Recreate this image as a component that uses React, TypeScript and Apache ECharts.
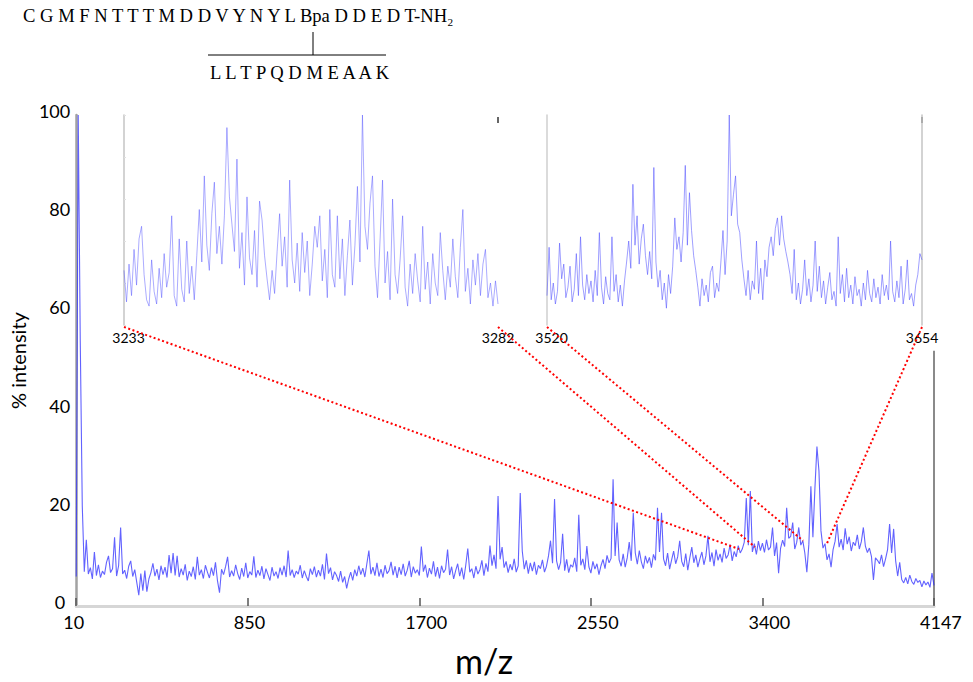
import React, { useEffect, useRef } from "react";
import * as echarts from "echarts";

// ---------- data ----------
const xTickPositions = [0, 850, 1700, 2550, 3400, 4250];
const xTickLabels = ["10", "850", "1700", "2550", "3400", "4147"];
const yTicks = [0, 20, 40, 60, 80, 100];
const mainStep = 10;

// main spectrum (% intensity), sampled every mainStep axis units
const mainIntensity = [
  6, 100, 54, 20.4, 7, 13.5, 6.5, 7.8, 5.5, 11,
  6.2, 8.4, 5.8, 7.1, 6.4, 8.9, 10.2, 6.8, 7.6, 14,
  6.1, 8.2, 16, 6.5, 7.3, 5.6, 8.1, 9.2, 6.0, 7.4,
  4.8, 2.2, 6.6, 3.1, 7.2, 2.9, 5.5, 6.8, 8.7, 6.1,
  7.5, 5.3, 8.2, 6.4, 7.9, 5.8, 10.4, 6.7, 10.8, 6.2,
  10.2, 5.9, 7.6, 6.3, 8.5, 5.2, 7.1, 6.0, 8.0, 5.4,
  10.0, 6.3, 7.4, 5.6, 8.3, 6.9, 5.7, 7.8, 6.2, 8.9,
  5.1, 2.7, 7.5, 6.4, 8.0, 10.0, 5.9, 7.2, 6.1, 8.4,
  6.6, 5.4, 7.7, 6.0, 8.8, 5.7, 7.0, 6.3, 10.1, 5.8,
  7.3, 6.2, 8.1, 5.5, 7.6, 6.4, 5.2, 7.9, 6.1, 7.0,
  5.6, 7.8, 6.3, 8.2, 5.9, 11.3, 6.2, 7.4, 5.8, 7.1,
  6.5, 8.3, 5.7, 7.2, 6.0, 5.1, 7.6, 6.4, 8.0, 5.9,
  7.3, 6.1, 8.5, 5.4, 10.7, 6.6, 7.8, 5.3, 7.0, 6.2,
  5.0, 7.1, 4.8, 6.0, 3.6, 5.5, 6.9, 5.2, 7.4, 6.1,
  8.2, 6.4, 7.7, 5.9, 8.6, 11.3, 6.5, 7.9, 6.2, 8.8,
  6.0, 7.5, 5.8, 8.3, 6.6, 7.2, 9.0, 6.3, 8.1, 5.7,
  7.9, 6.4, 8.6, 6.1, 7.3, 9.2, 5.9, 8.0, 6.7, 7.4,
  6.2, 12.1, 7.0, 8.4, 5.8, 7.7, 6.5, 9.1, 6.0, 7.9,
  5.6, 8.2, 6.8, 7.5, 11.5, 6.3, 8.0, 5.5, 7.2, 8.6,
  6.1, 7.8, 5.4, 8.3, 11.7, 6.9, 7.6, 5.7, 8.1, 6.5,
  7.4, 9.3, 6.2, 8.7, 7.0, 12.3, 8.2, 10.4, 7.6, 22.4,
  9.5, 12.0, 7.8, 9.1, 6.8, 8.5, 7.3, 9.6, 6.9, 8.2,
  23.0, 11.2, 7.5, 9.3, 6.6, 8.8, 7.1, 9.0, 6.4, 8.3,
  7.6, 9.4, 6.9, 8.1, 10.2, 13.3, 8.7, 21.8, 9.2, 7.4,
  8.9, 14.7, 7.2, 9.5, 6.8, 8.4, 7.9, 9.8, 7.0, 18.6,
  8.3, 9.6, 7.4, 12.2, 8.0, 6.7, 9.1, 7.5, 8.6, 6.4,
  8.2, 9.5, 7.6, 10.3, 8.8, 9.7, 25.8, 10.2, 17.0, 9.4,
  8.1, 10.6, 7.9, 9.8, 13.0, 9.2, 19.0, 10.8, 8.5, 11.3,
  9.0, 7.6, 10.2, 8.7, 9.9, 7.8, 10.5, 9.3, 20.0, 11.0,
  19.0, 9.6, 8.2, 10.8, 7.5, 9.4, 11.2, 8.6, 10.0, 13.3,
  9.1, 8.0, 10.7, 7.3, 9.8, 12.0, 8.8, 10.4, 7.9, 9.6,
  11.0, 8.4, 10.2, 14.3, 9.0, 10.9, 8.1, 11.5, 9.3, 10.6,
  8.9, 11.8, 9.7, 10.4, 12.5, 9.2, 11.1, 10.0, 12.3, 10.8,
  11.6, 13.0, 22.0, 12.4, 23.4, 11.0, 12.7, 10.5, 13.2, 11.3,
  12.8, 10.9, 13.5, 11.4, 12.0, 16.0, 10.2, 12.9, 6.7, 11.8,
  13.4, 12.1, 20.0, 13.8, 14.2, 17.0, 11.6, 13.0, 16.0, 12.4,
  13.3, 10.8, 6.9, 12.6, 24.4, 14.0, 24.0, 32.5, 27.5, 15.3,
  11.8, 12.7, 9.4, 10.6, 7.9, 11.5, 13.2, 16.7, 12.0, 13.6,
  11.4, 15.8, 12.6, 14.1, 11.2, 13.0, 12.3, 14.5, 11.6, 13.1,
  16.0, 12.2, 10.9, 11.8, 10.1, 5.3, 9.8, 9.3, 8.6, 10.4,
  8.0, 9.6, 11.5, 16.7, 10.8, 15.7, 9.2, 6.1, 8.9, 5.4,
  4.7, 5.8, 4.5, 6.3, 5.0, 4.4, 5.6, 4.8, 5.2, 3.9,
  5.1, 4.3, 4.9, 3.8, 6.7, 4.2,
];

// inset 1: m/z 3233 - 3282 (relative intensity, 0-100 of inset height)
const inset1Range = [3233, 3282];
const inset1Intensity = [
  26, 11, 29, 14, 36, 19, 41, 47, 24, 12,
  9, 31, 16, 10, 27, 13, 34, 18, 25, 52,
  14, 9, 41, 17, 11, 40, 15, 28, 12, 33,
  55, 30, 71, 38, 26, 53, 68, 34, 47, 29,
  52, 94, 61, 48, 35, 79, 27, 44, 19, 61,
  32, 24, 45, 18, 59, 50, 33, 22, 12, 26,
  15, 35, 53, 28, 42, 18, 69, 31, 20, 39,
  16, 44, 25, 40, 14, 29, 47, 37, 52, 21,
  36, 13, 55, 24, 18, 52, 22, 41, 14, 33,
  50, 19, 38, 66, 30, 100, 47, 36, 58, 71,
  28, 13, 40, 69, 20, 35, 12, 60, 24, 15,
  31, 52, 18, 9, 29, 15, 34, 21, 11, 47,
  17, 30, 10, 34, 20, 14, 44, 26, 12, 28,
  18, 41, 23, 13, 37, 55, 16, 27, 10, 31,
  19, 34, 14, 29, 36, 13, 20, 9, 21, 10,
];

// inset 2: m/z 3520 - 3654
const inset2Range = [3520, 3654];
const inset2Intensity = [
  14, 37, 12, 20, 10, 16, 39, 22, 29, 13,
  18, 28, 11, 17, 34, 14, 42, 19, 12, 24,
  15, 21, 11, 26, 14, 44, 18, 10, 23, 15,
  12, 42, 16, 24, 11, 19, 9, 21, 30, 40,
  27, 67, 38, 52, 29, 41, 48, 33, 24, 35,
  22, 75, 30, 18, 26, 12, 20, 8, 24, 15,
  28, 51, 36, 42, 30, 44, 76, 38, 63, 45,
  33, 26, 18, 9, 22, 14, 19, 11, 25, 28,
  13, 20, 16, 30, 45, 24, 40, 100, 52, 62,
  71, 48, 44, 31, 22, 14, 26, 12, 21, 17,
  40, 15, 27, 12, 31, 23, 37, 42, 33, 46,
  51, 38, 52, 41, 35, 30, 24, 15, 36, 12,
  20, 10, 17, 31, 14, 22, 11, 19, 40, 16,
  28, 13, 21, 10, 18, 25, 12, 16, 9, 42,
  15, 24, 11, 27, 13, 19, 10, 23, 14, 17,
  9, 20, 12, 26, 15, 11, 22, 13, 18, 10,
  24, 14, 19, 12, 40, 16, 11, 21, 13, 28,
  10, 17, 31, 12, 15, 9, 19, 24, 34, 31,
];

// where each zoom link lands on the main spectrum (main axis units, % intensity)
const linkTargets = [
  [3284, 11.6],
  [3363, 12.0],
  [3601, 13.3],
  [3716, 12.4],
];

const peptideTop = "C G M F N T T T M D D V Y N Y L Bpa D D E D T-NH\u2082";
const peptideBranch = "L L T P Q D M E A A K";

export default function App() {
  const ref = useRef<HTMLDivElement>(null);

  useEffect(() => {
    document.body.style.margin = "0";
    const chart = echarts.init(ref.current!, null, { renderer: "svg" });

    const mainData = mainIntensity.map((v, i) => [i * mainStep, v]);
    const mkInset = (vals: number[], r: number[]) =>
      vals.map((v, j) => [r[0] + (j * (r[1] - r[0])) / (vals.length - 1), v]);
    const inset1Data = mkInset(inset1Intensity, inset1Range);
    const inset2Data = mkInset(inset2Intensity, inset2Range);

    const font = "Lato";
    const endLabel = (r: number[]) => (v: number) => {
      if (Math.abs(v - r[0]) < 1e-6) return "{l|" + v + "}";
      if (Math.abs(v - r[1]) < 1e-6) return String(v);
      return "";
    };

    const insetX = (gridIndex: number, r: number[]) => ({
      type: "value",
      gridIndex,
      min: r[0],
      max: r[1],
      axisLine: { show: false },
      axisTick: { show: false },
      splitLine: { show: false },
      axisLabel: {
        show: true,
        showMinLabel: true,
        showMaxLabel: true,
        formatter: endLabel(r),
        fontFamily: font,
        fontSize: 14,
        color: "#000",
        margin: 5,
        rich: { l: { fontFamily: font, fontSize: 14, color: "#000", padding: [0, 0, 0, 9] } },
      },
    });

    const insetY = (gridIndex: number, position: string, color: string, ticks: boolean) => ({
      type: "value",
      gridIndex,
      min: 0,
      max: 100,
      interval: 20,
      position,
      axisLine: { show: true, lineStyle: { color, width: 1.5 } },
      axisTick: { show: ticks, inside: true, length: 2, lineStyle: { color: "#e0e0e0" } },
      axisLabel: { show: false },
      splitLine: { show: false },
    });

    chart.setOption({
      animation: false,
      backgroundColor: "#ffffff",
      grid: [
        { left: 67, top: 115, width: 867, height: 492 },
        { left: 124, top: 115, width: 374, height: 210 },
        { left: 547, top: 115, width: 375, height: 210 },
      ],
      xAxis: [
        {
          type: "value",
          gridIndex: 0,
          min: xTickPositions[0],
          max: xTickPositions[xTickPositions.length - 1],
          interval: 850,
          name: "m/z",
          nameLocation: "middle",
          nameGap: 37,
          nameTextStyle: { fontFamily: font, fontSize: 34, color: "#000", padding: [0, 42, 0, 0] },
          axisLine: { show: true, lineStyle: { color: "#d6d6d6", width: 3 } },
          axisTick: { show: true, inside: true, length: 8, lineStyle: { color: "#555", width: 1.5 } },
          splitLine: { show: false },
          axisLabel: {
            fontFamily: font,
            fontSize: 18,
            lineHeight: 16,
            color: "#000",
            margin: 7.5,
            align: "left",
            padding: [0, 0, 0, -14],
            formatter: (v: number) => {
              const k = xTickPositions.indexOf(v);
              if (k === 0) return "{f|" + xTickLabels[0] + "}";
              return k >= 0 ? xTickLabels[k] : "";
            },
            rich: {
              f: { fontFamily: font, fontSize: 18, lineHeight: 16, color: "#000", padding: [0, 0, 0, 1] },
            },
          },
        },
        insetX(1, inset1Range),
        insetX(2, inset2Range),
      ],
      yAxis: [
        {
          type: "value",
          gridIndex: 0,
          min: yTicks[0],
          max: yTicks[yTicks.length - 1],
          interval: 20,
          name: "% intensity",
          nameLocation: "middle",
          nameGap: 40,
          nameRotate: 90,
          nameTextStyle: { fontFamily: font, fontSize: 20, color: "#000" },
          axisLine: { show: true, lineStyle: { color: "#a2a2a2", width: 2.5 } },
          axisTick: { show: false },
          splitLine: { show: false },
          axisLabel: {
            fontFamily: font,
            fontSize: 18,
            lineHeight: 8,
            verticalAlign: "bottom",
            color: "#000",
            margin: 6,
            formatter: (v: number) => (v === 0 ? "{z|0}" : String(v)),
            rich: {
              z: { fontFamily: font, fontSize: 18, lineHeight: 8, color: "#000", padding: [0, 5, 0, 0] },
            },
          },
        },
        insetY(1, "left", "#c4c4c4", true),
        insetY(2, "left", "#cfcfcf", false),
        insetY(2, "right", "#c4c4c4", false),
      ],
      series: [
        {
          type: "line",
          xAxisIndex: 0,
          yAxisIndex: 0,
          data: mainData,
          showSymbol: false,
          lineStyle: { color: "rgba(45,45,255,0.75)", width: 1.1 },
          z: 3,
        },
        {
          type: "line",
          xAxisIndex: 1,
          yAxisIndex: 1,
          data: inset1Data,
          showSymbol: false,
          lineStyle: { color: "rgba(90,90,255,0.5)", width: 1 },
        },
        {
          type: "line",
          xAxisIndex: 2,
          yAxisIndex: 2,
          data: inset2Data,
          showSymbol: false,
          lineStyle: { color: "rgba(80,80,255,0.55)", width: 1 },
        },
      ],
    });

    const px = (seriesIndex: number, p: number[]) =>
      chart.convertToPixel({ seriesIndex }, p) as number[];
    const starts = [
      px(1, [inset1Range[0], 0]),
      px(1, [inset1Range[1], 0]),
      px(2, [inset2Range[0], 0]),
      px(2, [inset2Range[1], 0]),
    ];
    const links = linkTargets.map((t, k) => {
      const a = starts[k];
      const b = px(0, t);
      return {
        type: "line",
        shape: { x1: a[0], y1: a[1] + 2, x2: b[0], y2: b[1] },
        style: { stroke: "#ff0000", lineWidth: 2, lineDash: [2, 2.5] },
        z: 10,
      };
    });
    const mainRight = px(0, [xTickPositions[xTickPositions.length - 1], 0]);
    const rightBorderTop = px(0, [xTickPositions[xTickPositions.length - 1], 52]);
    const i1r = px(1, [inset1Range[1], 100]);
    const i2r = px(2, [inset2Range[1], 100]);

    chart.setOption({
      graphic: [
        {
          type: "text",
          left: 23,
          top: 6,
          style: {
            text: peptideTop,
            fontFamily: "Liberation Serif",
            fontSize: 18.6,
            fill: "#000",
          },
        },
        {
          type: "text",
          left: 210,
          top: 63,
          style: { text: peptideBranch, fontFamily: "Liberation Serif", fontSize: 18.6, fill: "#000" },
        },
        { type: "line", shape: { x1: 313, y1: 32, x2: 313, y2: 55 }, style: { stroke: "#000", lineWidth: 1 } },
        { type: "line", shape: { x1: 208, y1: 55, x2: 386, y2: 55 }, style: { stroke: "#000", lineWidth: 1 } },
        {
          type: "line",
          shape: { x1: mainRight[0], y1: rightBorderTop[1], x2: mainRight[0], y2: mainRight[1] },
          style: { stroke: "#8a8a8a", lineWidth: 2 },
        },
        { type: "line", shape: { x1: i1r[0], y1: i1r[1] + 2, x2: i1r[0], y2: i1r[1] + 8 }, style: { stroke: "#333", lineWidth: 1.5 } },
        { type: "line", shape: { x1: i2r[0], y1: i2r[1] + 2, x2: i2r[0], y2: i2r[1] + 8 }, style: { stroke: "#333", lineWidth: 1.5 } },
        ...links,
      ],
    });

    return () => chart.dispose();
  }, []);

  return (
    <div
      ref={ref}
      style={{ position: "fixed", left: 0, top: 0, width: 973, height: 682, background: "#fff" }}
    />
  );
}
